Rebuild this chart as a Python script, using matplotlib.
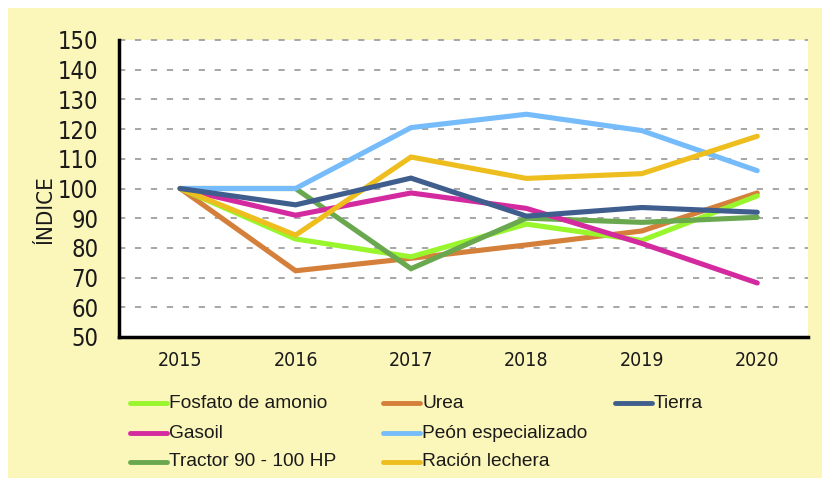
import matplotlib
matplotlib.use("Agg")
import matplotlib.pyplot as plt
from matplotlib.patches import Rectangle
from matplotlib.lines import Line2D

plt.rcParams['font.family'] = ['DejaVu Sans']

years = ['2015', '2016', '2017', '2018', '2019', '2020']

fosfato = [100, 83, 77, 88, 82.5, 97.5]
urea = [100, 72.3, 76.5, 81, 85.7, 98.5]
tierra = [100, 94.5, 103.5, 90.7, 93.6, 92]
gasoil = [100, 91, 98.5, 93.3, 81.5, 68.2]
peon = [100, 100, 120.5, 125, 119.5, 106]
tractor = [100, 100, 73, 90, 88.6, 90.3]
racion = [100, 84.3, 110.6, 103.4, 105, 117.6]

names = ['Fosfato de amonio', 'Urea', 'Tierra', 'Gasoil', 'Peón especializado',
         'Tractor 90 - 100 HP', 'Ración lechera']
series = [fosfato, urea, tierra, gasoil, peon, tractor, racion]
colors = ['#99F52C', '#D5803A', '#3F5E8E', '#D42AA0', '#76BCFA', '#69A84E', '#EEBE1E']
# drawing order (back to front)
order = [1, 0, 5, 3, 4, 6, 2]

W, H = 831, 483
fig = plt.figure(figsize=(W / 100, H / 100), dpi=100)
fig.patch.set_facecolor('white')
fig.patches.append(Rectangle((8 / W, 1 - 478 / H), 814 / W, 470 / H,
                             transform=fig.transFigure, facecolor='#FBF6BA',
                             edgecolor='none', zorder=-10))

ax = fig.add_axes([119 / W, 1 - 337 / H, 689 / W, 297 / H])
ax.set_facecolor('white')
x = list(range(len(years)))
for i in order:
    ax.plot(x, series[i], color=colors[i], lw=3.7, solid_capstyle='round',
            solid_joinstyle='miter', zorder=3)

ax.set_xlim(-0.53, 5.44)
ax.set_ylim(50, 150)
ax.set_yticks(range(50, 151, 10))
ax.set_xticks(x)
ax.set_xticklabels(years)
for y in range(60, 151, 10):
    ax.axhline(y, color='#A6A6A6', lw=1.4, ls=(0, (3.2, 5)), zorder=1, clip_on=False)
ax.tick_params(length=0)
ax.tick_params(axis='y', labelsize=17, pad=15, colors='#1a1a1a')
ax.tick_params(axis='x', labelsize=14, pad=10, colors='#1a1a1a')
for lab in ax.get_yticklabels():
    lab.set_fontstretch('condensed')
for lab in ax.get_xticklabels():
    lab.set_fontstretch('condensed')
for s in ['top', 'right']:
    ax.spines[s].set_visible(False)
for s in ['left', 'bottom']:
    ax.spines[s].set_linewidth(2.5)
    ax.spines[s].set_color('black')
ax.set_ylabel('ÍNDICE', fontsize=16, color='#1a1a1a', fontstretch='condensed',
              va='center')
ax.yaxis.set_label_coords(-0.107, 0.43)

# legend, laid out by hand in three columns
cols = [130, 383, 615]
rows = [403, 433, 462]
slots = [(0, 0), (1, 0), (2, 0), (0, 1), (1, 1), (0, 2), (1, 2)]
for i, (c, r) in enumerate(slots):
    x0 = cols[c]
    yy = 1 - rows[r] / H
    fig.add_artist(Line2D([x0 / W, (x0 + 37) / W], [yy, yy], color=colors[i],
                          lw=3.5, solid_capstyle='round', transform=fig.transFigure))
    fig.text((x0 + 39) / W, yy, names[i], fontsize=13.8, va='center', ha='left',
             color='#1a1a1a', family='Liberation Sans')

fig.savefig('out.png', dpi=100, facecolor=fig.get_facecolor())
